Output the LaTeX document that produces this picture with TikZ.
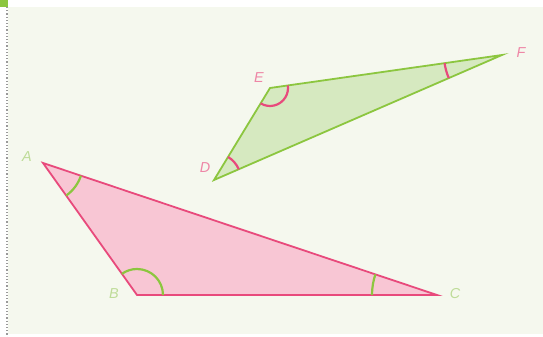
\documentclass[tikz,border=0pt]{standalone}
\usepackage{fontspec}
\setsansfont{Liberation Sans}
\usetikzlibrary{angles}

\definecolor{paper}{HTML}{F5F8EE}
\definecolor{rosefill}{HTML}{F8C6D4}
\definecolor{roseline}{HTML}{E84A7C}
\definecolor{rosetext}{HTML}{EE86A6}
\definecolor{leaffill}{HTML}{D6E9C0}
\definecolor{leafline}{HTML}{8CC63F}
\definecolor{leaftext}{HTML}{BEDC98}

\tikzset{
  vertex/.style={font=\sffamily\itshape\Large},
  mark angle/.style={draw, line width=2.2pt}
}

\begin{document}
\begin{tikzpicture}[x=1pt,y=1pt]
\useasboundingbox (0,0) rectangle (543,337);
\fill[white] (0,0) rectangle (543,337);
\fill[paper] (8,3) rectangle (543,330);
\fill[leafline] (0,330) rectangle (8,337);
\draw[black!40, line width=1.2pt, dotted] (7,330) -- (7,0);
% corners
\coordinate (A) at (43,174);
\coordinate (B) at (137,42);
\coordinate (C) at (437,42);
\coordinate (D) at (214,157);
\coordinate (E) at (270,249);
\coordinate (F) at (502,282);
% triangles
\filldraw[fill=rosefill, draw=roseline, line width=1.8pt, line join=miter] (A) -- (B) -- (C) -- cycle;
\filldraw[fill=leaffill, draw=leafline, line width=1.8pt, line join=miter] (D) -- (E) -- (F) -- cycle;
% angle marks
\pic[mark angle, leafline, angle radius=40pt] {angle=B--A--C};
\pic[mark angle, leafline, angle radius=26pt] {angle=C--B--A};
\pic[mark angle, leafline, angle radius=65pt] {angle=A--C--B};
\pic[mark angle, roseline, angle radius=27pt] {angle=F--D--E};
\pic[mark angle, roseline, angle radius=18pt] {angle=D--E--F};
\pic[mark angle, roseline, angle radius=58pt] {angle=E--F--D};
% labels
\node[vertex, text=leaftext] (labA) at (27,180) {A};
\node[vertex, text=leaftext] (labB) at (114,43) {B};
\node[vertex, text=leaftext] (labC) at (455,43) {C};
\node[vertex, text=rosetext] (labD) at (205,169) {D};
\node[vertex, text=rosetext] (labE) at (259,259) {E};
\node[vertex, text=rosetext] (labF) at (521,284) {F};
\end{tikzpicture}
\end{document}
